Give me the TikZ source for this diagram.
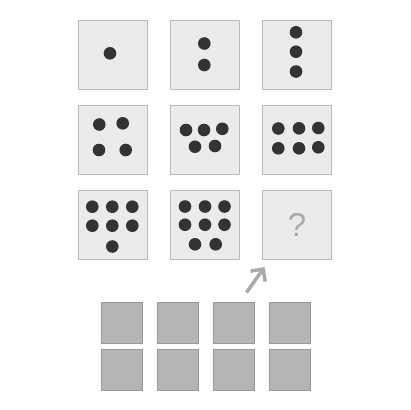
\documentclass[tikz,border=0pt]{standalone}
\usepackage{fontspec}
\setmainfont{Liberation Sans}
\usetikzlibrary{arrows.meta}
\definecolor{cellfill}{HTML}{EBEBEB}
\definecolor{celldraw}{HTML}{BBBBBB}
\definecolor{dotcol}{HTML}{333333}
\definecolor{optfill}{HTML}{B5B5B5}
\definecolor{optdraw}{HTML}{999999}
\definecolor{qcol}{HTML}{AAAAAA}
\begin{document}
\begin{tikzpicture}[x=1pt,y=-1pt,
  cell/.style={draw=celldraw,fill=cellfill,line width=1pt,minimum size=69pt,inner sep=0pt,anchor=north west},
  opt/.style={draw=optdraw,fill=optfill,line width=0.8pt,minimum width=41pt,minimum height=41pt,inner sep=0pt,anchor=north west},
  dot/.style={fill=dotcol},
  pointer/.style={draw=qcol,line width=3.5pt,-{Straight Barb[length=9pt,width=18pt,line width=3.5pt]}}]
\useasboundingbox (0,0) rectangle (410,410);
% grid cells
\node[cell] (c11) at (78,19.5) {};
\node[cell] (c12) at (170,19.5) {};
\node[cell] (c13) at (262,19.5) {};
\node[cell] (c21) at (78,104.8) {};
\node[cell] (c22) at (170,104.8) {};
\node[cell] (c23) at (262,104.8) {};
\node[cell] (c31) at (78,190.2) {};
\node[cell] (c32) at (170,190.2) {};
\node[cell,font=\fontsize{33}{33}\selectfont,text=qcol] (c33) at (262,190.2) {?};
% dots
\def\r{6.3}
\fill[dot] (110,53.3) circle (\r);
\foreach \p in {(204.3,43.5),(204.3,65)} \fill[dot] \p circle (\r);
\foreach \p in {(296,32.3),(296,51.7),(296,71.5)} \fill[dot] \p circle (\r);
\foreach \p in {(99.3,124.5),(122.7,123.3),(99,150),(125.7,150)} \fill[dot] \p circle (\r);
\foreach \p in {(186,130),(204,130),(222.3,128.8),(195,146.7),(215,146)} \fill[dot] \p circle (\r);
\foreach \p in {(278.3,128.5),(299,128.3),(318.3,128),(278.3,148.3),(299,148.3),(318.3,147.3)} \fill[dot] \p circle (\r);
\foreach \p in {(92.3,206.7),(112.3,206.7),(132.3,206.7),(92.3,225.7),(112.3,225.7),(132.3,225.7),(112.3,246.5)} \fill[dot] \p circle (\r);
\foreach \p in {(185,206.5),(205,206.5),(224.5,206.5),(185,224.7),(205,224.7),(224.5,224.7),(195,244.3),(215.7,244.3)} \fill[dot] \p circle (\r);
% arrow
\coordinate (atail) at (246.5,292.5);
\coordinate (ahead) at (264.5,267);
\draw[pointer] (atail) -- (ahead);
% options
\node[opt] (o1) at (100.5,301.5) {};
\node[opt] (o2) at (156.5,301.5) {};
\node[opt] (o3) at (212.5,301.5) {};
\node[opt] (o4) at (268.5,301.5) {};
\node[opt] (o5) at (100.5,349) {};
\node[opt] (o6) at (156.5,349) {};
\node[opt] (o7) at (212.5,349) {};
\node[opt] (o8) at (268.5,349) {};
\end{tikzpicture}
\end{document}
